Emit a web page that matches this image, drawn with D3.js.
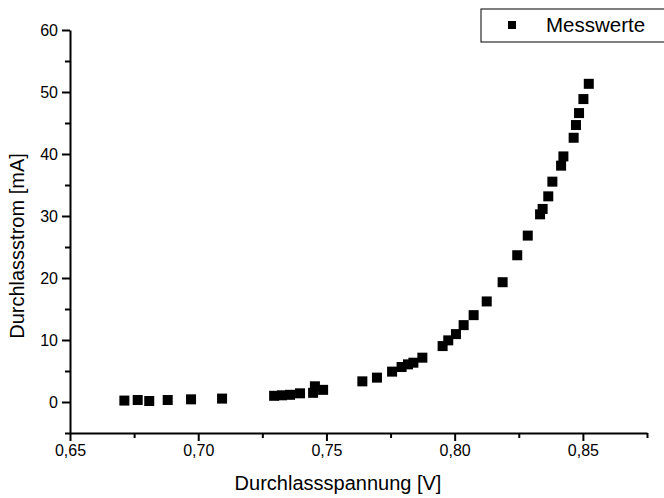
<!DOCTYPE html>
<html>
<head>
<meta charset="utf-8">
<script src="https://cdn.jsdelivr.net/npm/d3@7"></script>
<style>
  body { margin: 0; background: #fff; }
  svg { display: block; font-family: "Liberation Sans", Arial, sans-serif; }
</style>
</head>
<body>
<svg width="664" height="498"></svg>
<script>
// measured values: forward voltage [V] and forward current [mA]
var spannung = [0.6712, 0.6764, 0.6809, 0.6881, 0.6972, 0.7093, 0.7296, 0.7327,
  0.7358, 0.7397, 0.7448, 0.7455, 0.7487, 0.7640, 0.7697, 0.7756, 0.7793, 0.7818,
  0.7839, 0.7874, 0.7953, 0.7975, 0.8005, 0.8035, 0.8074, 0.8125, 0.8187, 0.8244,
  0.8285, 0.8333, 0.8343, 0.8365, 0.8381, 0.8415, 0.8424, 0.8464, 0.8473, 0.8485,
  0.8502, 0.8523];
var strom = [0.23, 0.32, 0.16, 0.32, 0.43, 0.55, 1.00, 1.08,
  1.16, 1.40, 1.48, 2.53, 1.96, 3.33, 3.93, 4.90, 5.64, 6.07,
  6.34, 7.15, 9.02, 9.94, 10.95, 12.40, 14.01, 16.22, 19.32, 23.67,
  26.84, 30.27, 31.14, 33.17, 35.54, 38.12, 39.61, 42.62, 44.67, 46.60,
  48.86, 51.32];
var xTicks = [0.65, 0.70, 0.75, 0.80, 0.85];
var yTicks = [0, 10, 20, 30, 40, 50, 60];
var legendLabel = "Messwerte";

var svg = d3.select("svg"),
    margin = {left: 70, right: 647, top: 30, bottom: 433};

var x = d3.scaleLinear().domain([0.65, 0.875]).range([margin.left, margin.right]),
    y = d3.scaleLinear().domain([-5, 60]).range([margin.bottom, margin.top]);

var komma = function(d) { return d3.format(".2f")(d).replace(".", ","); };

// minor ticks
svg.append("g")
    .attr("class", "minor")
    .attr("transform", "translate(0," + margin.bottom + ")")
    .call(d3.axisBottom(x).tickValues(d3.range(0.675, 0.876, 0.05)).tickSize(5).tickFormat(""));
svg.append("g")
    .attr("class", "minor")
    .attr("transform", "translate(" + margin.left + ",0)")
    .call(d3.axisLeft(y).tickValues(d3.range(-5, 61, 10)).tickSize(5).tickFormat(""));
svg.selectAll(".minor .domain").remove();

// x axis
svg.append("g")
    .attr("class", "axis axis--x")
    .attr("transform", "translate(0," + margin.bottom + ")")
    .call(d3.axisBottom(x).tickValues(xTicks).tickSize(8).tickSizeOuter(0).tickPadding(4).tickFormat(komma));

// y axis
svg.append("g")
    .attr("class", "axis axis--y")
    .attr("transform", "translate(" + margin.left + ",0)")
    .call(d3.axisLeft(y).tickValues(yTicks).tickSize(8).tickSizeOuter(0).tickPadding(4));

svg.selectAll(".axis text").attr("font-size", 16).attr("fill", "#000").attr("font-family", null);
svg.selectAll(".domain, .tick line").attr("stroke", "#000").attr("stroke-width", 2);

// axis titles
svg.append("text")
    .attr("x", 338)
    .attr("y", 490)
    .attr("text-anchor", "middle")
    .attr("font-size", 20)
    .text("Durchlassspannung [V]");

svg.append("text")
    .attr("transform", "translate(24,246) rotate(-90)")
    .attr("text-anchor", "middle")
    .attr("font-size", 20)
    .text("Durchlassstrom [mA]");

// data points
svg.selectAll(".punkt")
  .data(d3.range(spannung.length))
  .enter().append("rect")
    .attr("class", "punkt")
    .attr("x", function(i) { return x(spannung[i]) - 5; })
    .attr("y", function(i) { return y(strom[i]) - 5; })
    .attr("width", 10)
    .attr("height", 10)
    .attr("fill", "#000");

// legend
var leg = svg.append("g");
leg.append("rect")
    .attr("x", 481).attr("y", 9).attr("width", 200).attr("height", 33)
    .attr("fill", "#fff").attr("stroke", "#000").attr("stroke-width", 1);
leg.append("rect")
    .attr("x", 508).attr("y", 21).attr("width", 8).attr("height", 8)
    .attr("fill", "#000");
leg.append("text")
    .attr("x", 546).attr("y", 32)
    .attr("font-size", 20.5)
    .text(legendLabel);
</script>
</body>
</html>
